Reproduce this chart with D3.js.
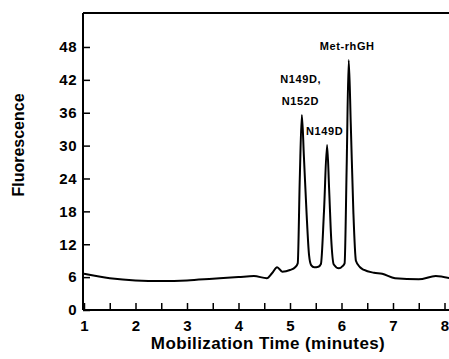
<!DOCTYPE html>
<html>
<head>
<meta charset="utf-8">
<script src="https://cdn.jsdelivr.net/npm/d3@7"></script>
<style>
  html, body { margin: 0; padding: 0; background: #fff; }
  svg { display: block; }
  text { font-family: "Liberation Sans", Arial, Helvetica, sans-serif; font-weight: bold; fill: #000; }
</style>
</head>
<body>
<svg id="chart" width="449" height="359"></svg>
<script>
// ---- data ----
const time = [1.0, 1.5, 2.0, 2.5, 3.0, 3.5, 4.0, 4.3, 4.55, 4.65, 4.75, 4.85, 5.0, 5.1,
  5.15, 5.19, 5.23, 5.27, 5.32, 5.37, 5.41, 5.47, 5.55,
  5.60, 5.66, 5.72, 5.76, 5.80, 5.85, 5.95, 6.02,
  6.06, 6.10, 6.14, 6.18, 6.23, 6.28, 6.36, 6.44, 6.63, 6.79, 7.04, 7.5, 7.83, 8.1];
const fluorescence = [6.6, 5.8, 5.4, 5.3, 5.4, 5.7, 6.0, 6.2, 5.8, 6.7, 7.8, 7.0, 7.3, 7.8,
  8.5, 24, 35.6, 28, 18, 10, 8.2, 7.8, 7.9,
  8.4, 18, 30.1, 22, 13, 8.3, 7.6, 8.0,
  8.5, 26, 45.6, 34, 18, 9, 7.8, 7.3, 6.8, 6.6, 5.8, 5.6, 6.2, 5.8];
const xTicks = [1, 2, 3, 4, 5, 6, 7, 8];
const xMinorTicks = [1.5, 2.5, 3.5, 4.5, 5.5, 6.5, 7.5];
const yTicks = [0, 6, 12, 18, 24, 30, 36, 42, 48];
const peakLabels = ["Met-rhGH", "N149D,", "N152D", "N149D"];
const peakLabelX = [6.11, 4.81, 4.84, 5.31];
const peakLabelY = [47.4, 41.4, 37.4, 31.9];
const xTitle = "Mobilization Time (minutes)";
const yTitle = "Fluorescence";

const svg = d3.select("#chart");
const x = d3.scaleLinear().domain([1, 8.1]).range([84, 84 + 7.1 * 51.5]);
const y = d3.scaleLinear().domain([0, 54.2]).range([310, 13]);

// top frame line
svg.append("line")
  .attr("x1", x(1) - 1).attr("x2", 449)
  .attr("y1", y(54.2)).attr("y2", y(54.2))
  .attr("stroke", "#000").attr("stroke-width", 2);

// x axis (major ticks with labels)
const gx = svg.append("g").attr("transform", `translate(0,${y(0)})`)
  .call(d3.axisBottom(x).tickValues(xTicks).tickFormat(d3.format("d"))
    .tickSizeInner(-7).tickSizeOuter(0).tickPadding(10));
gx.select(".domain").attr("stroke-width", 2).attr("d", `M${x(1) - 1},0H449`);
gx.selectAll(".tick line").attr("stroke-width", 1.5);
gx.selectAll(".tick text").style("font-size", "15px").style("font-family", null)
  .attr("font-family", null);
// minor ticks
svg.append("g").attr("transform", `translate(0,${y(0)})`)
  .call(d3.axisBottom(x).tickValues(xMinorTicks).tickFormat("").tickSizeInner(-7).tickSizeOuter(0))
  .call(g => g.select(".domain").remove())
  .selectAll(".tick line").attr("stroke-width", 1.5);

// y axis
const gy = svg.append("g").attr("transform", `translate(${x(1) - 1},0)`)
  .call(d3.axisLeft(y).tickValues(yTicks).tickFormat(d3.format("d"))
    .tickSizeInner(-7).tickSizeOuter(0).tickPadding(6));
gy.select(".domain").attr("stroke-width", 2).attr("d", `M0,${y(54.2)}V${y(0)}`);
gy.selectAll(".tick line").attr("stroke-width", 1.5);
gy.selectAll(".tick text").style("font-size", "15px").style("letter-spacing", "0.5px");
svg.selectAll(".tick text").attr("font-family", null);

// trace
const pts = time.map((t, i) => [t, fluorescence[i]]);
svg.append("path")
  .datum(pts)
  .attr("fill", "none")
  .attr("stroke", "#000")
  .attr("stroke-width", 2)
  .attr("stroke-linejoin", "round")
  .attr("d", d3.line().x(d => x(d[0])).y(d => y(d[1])).curve(d3.curveMonotoneX));

// peak labels
svg.selectAll("text.peak").data(peakLabels).enter().append("text")
  .attr("class", "peak")
  .attr("x", (d, i) => x(peakLabelX[i]))
  .attr("y", (d, i) => y(peakLabelY[i]))
  .attr("text-anchor", (d, i) => i === 0 ? "middle" : "start")
  .style("font-size", "11px")
  .style("letter-spacing", "0.6px")
  .text(d => d);

// axis titles
svg.append("text")
  .attr("x", 268).attr("y", 349)
  .attr("text-anchor", "middle")
  .style("font-size", "17px")
  .style("letter-spacing", "0.4px")
  .text(xTitle);

svg.append("text")
  .attr("transform", "translate(24,145) rotate(-90)")
  .attr("text-anchor", "middle")
  .style("font-size", "16px")
  .text(yTitle);
</script>
</body>
</html>
